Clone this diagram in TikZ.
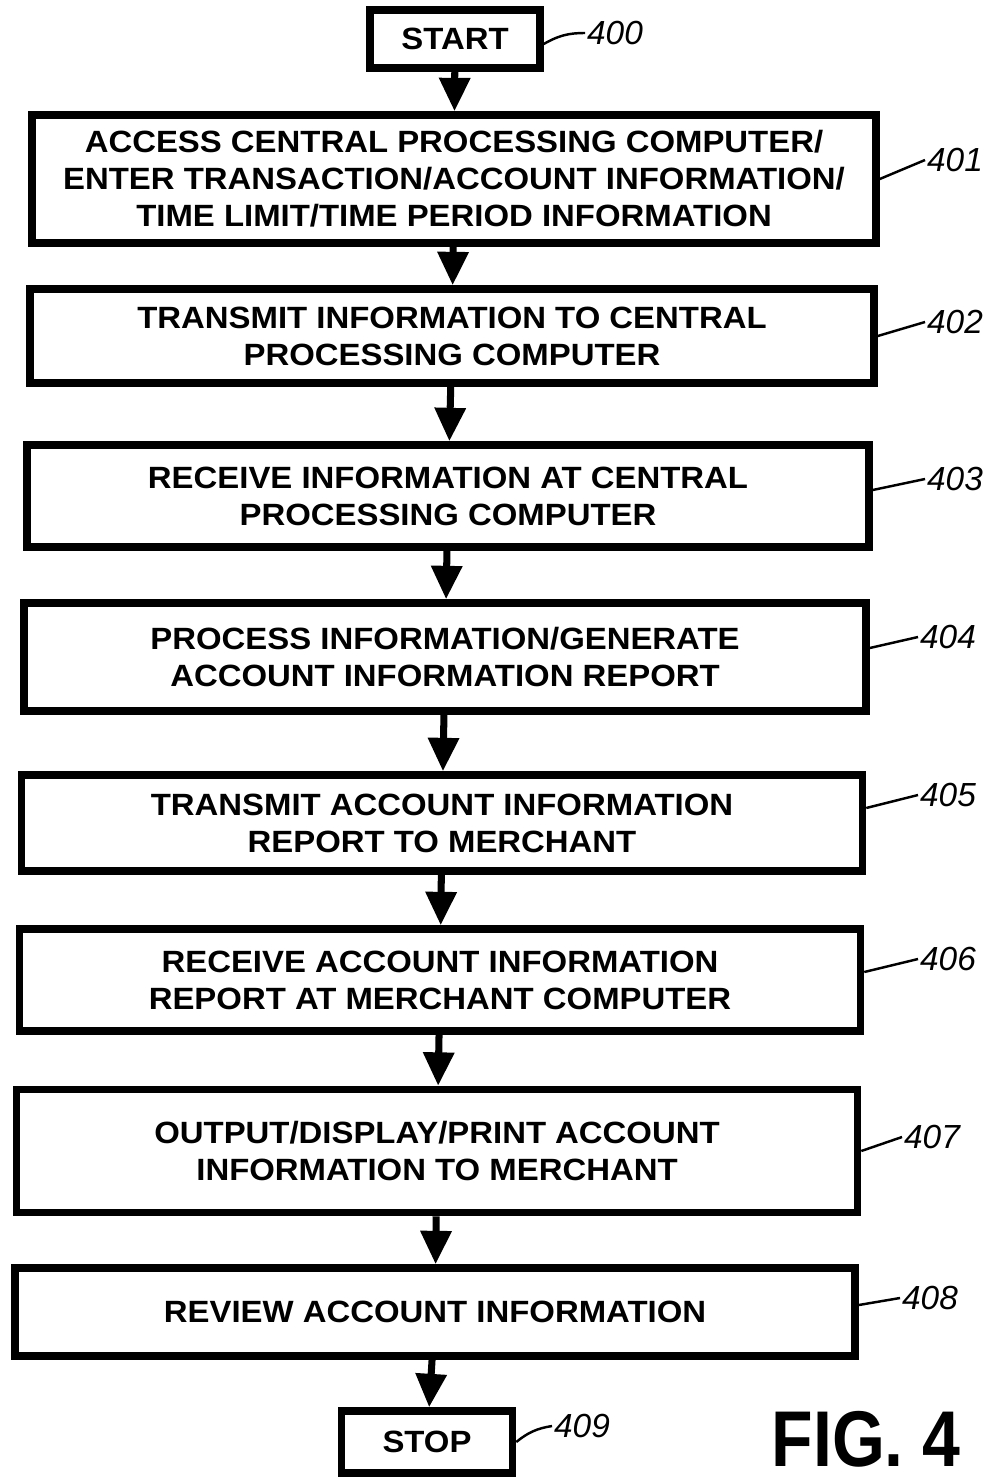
\documentclass[tikz,border=0pt]{standalone}
\usepackage{fontspec}
\setmainfont{Liberation Sans}
\newfontfamily\boxfont[FakeStretch=1.07]{Liberation Sans}
\newfontfamily\figfont[FakeStretch=0.86]{Liberation Sans}
\usetikzlibrary{positioning,arrows.meta}

\tikzset{
  stepbox/.style={draw,line width=4.3pt,align=center,font=\boxfont\fontsize{17.5}{21}\selectfont\bfseries,inner sep=0pt},
  flow/.style={line width=4pt,-{Triangle[length=19pt,width=17pt]}},
  refnum/.style={font=\fontsize{19}{22}\selectfont\itshape,inner sep=1pt},
  lead/.style={line width=1.4pt}
}

\begin{document}
\begin{tikzpicture}[x=0.02cm,y=-0.02cm]
\useasboundingbox (0,0) rectangle (1001,1477);

% Steps
\node[stepbox,minimum width=170*0.02cm,minimum height=58*0.02cm] (s400) at (455,39) {START};
\node[stepbox,minimum width=844*0.02cm,minimum height=128*0.02cm] (s401) at (454,179) {ACCESS CENTRAL PROCESSING COMPUTER/\\ENTER TRANSACTION/ACCOUNT INFORMATION/\\TIME LIMIT/TIME PERIOD INFORMATION};
\node[stepbox,minimum width=844*0.02cm,minimum height=94*0.02cm] (s402) at (452,336) {TRANSMIT INFORMATION TO CENTRAL\\PROCESSING COMPUTER};
\node[stepbox,minimum width=842*0.02cm,minimum height=102*0.02cm] (s403) at (448,496) {RECEIVE INFORMATION AT CENTRAL\\PROCESSING COMPUTER};
\node[stepbox,minimum width=842*0.02cm,minimum height=108*0.02cm] (s404) at (445,657) {PROCESS INFORMATION/GENERATE\\ACCOUNT INFORMATION REPORT};
\node[stepbox,minimum width=841*0.02cm,minimum height=96*0.02cm] (s405) at (442,823) {TRANSMIT ACCOUNT INFORMATION\\REPORT TO MERCHANT};
\node[stepbox,minimum width=841*0.02cm,minimum height=102*0.02cm] (s406) at (440,980) {RECEIVE ACCOUNT INFORMATION\\REPORT AT MERCHANT COMPUTER};
\node[stepbox,minimum width=841*0.02cm,minimum height=123*0.02cm] (s407) at (437,1151) {OUTPUT/DISPLAY/PRINT ACCOUNT\\INFORMATION TO MERCHANT};
\node[stepbox,minimum width=840*0.02cm,minimum height=88*0.02cm] (s408) at (435,1312) {REVIEW ACCOUNT INFORMATION};
\node[stepbox,minimum width=171*0.02cm,minimum height=62*0.02cm] (s409) at (427,1442) {STOP};

% Main path
\draw[flow] (s400) -- (s401);
\draw[flow] (s401) -- (s402);
\draw[flow] (s402) -- (s403);
\draw[flow] (s403) -- (s404);
\draw[flow] (s404) -- (s405);
\draw[flow] (s405) -- (s406);
\draw[flow] (s406) -- (s407);
\draw[flow] (s407) -- (s408);
\draw[flow] (s408) -- (s409);

% Reference numerals
\node[refnum] (l400) at (615,33) {400};
\node[refnum] (l401) at (955,160) {401};
\node[refnum] (l402) at (955,322) {402};
\node[refnum] (l403) at (955,479) {403};
\node[refnum] (l404) at (948,637) {404};
\node[refnum] (l405) at (948,795) {405};
\node[refnum] (l406) at (948,959) {406};
\node[refnum] (l407) at (932,1137) {407};
\node[refnum] (l408) at (930,1298) {408};
\node[refnum] (l409) at (582,1426) {409};

\draw[lead] (s400.east) ++(0,5) to[bend left=15] (l400.west);
\draw[lead] (s401.east) -- (l401.west);
\draw[lead] (s402.east) -- (l402.west);
\draw[lead] (s403.east) ++(0,-6) -- (l403.west);
\draw[lead] (s404.east) ++(0,-9) -- (l404.west);
\draw[lead] (s405.east) ++(0,-15) -- (l405.west);
\draw[lead] (s406.east) ++(0,-8) -- (l406.west);
\draw[lead] (s407.east) -- (l407.west);
\draw[lead] (s408.east) ++(0,-7) -- (l408.west);
\draw[lead] (s409.east) to[bend left=15] (l409.west);

% Figure label
\node[font=\figfont\fontsize{45}{50}\selectfont\bfseries,inner sep=0pt] (fig) at (866,1439) {FIG. 4};
\end{tikzpicture}
\end{document}
